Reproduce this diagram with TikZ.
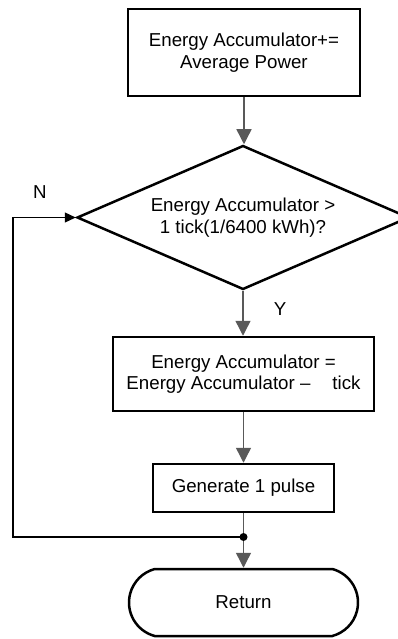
\documentclass[tikz,border=0pt]{standalone}
\usepackage{fontspec}
\setmainfont{Liberation Sans}
\usetikzlibrary{shapes.geometric,shapes.misc,arrows.meta}
\definecolor{conn}{HTML}{595959}
\tikzset{
  box/.style={draw=black, line width=2.5pt, rectangle, align=center, inner sep=0pt},
  decision/.style={draw=black, line width=2.5pt, diamond, aspect=2.3, align=center, inner sep=0pt},
  term/.style={draw=black, line width=2.5pt, rounded rectangle, rounded rectangle arc length=150, align=center, inner sep=0pt},
  garrow/.style={draw=conn, line width=1.4pt, -{Triangle[length=15pt,width=15pt]}},
  gline/.style={draw=conn, line width=1.4pt},
  barrow/.style={draw=black, line width=1.3pt, -{Triangle[length=11pt,width=10pt]}},
  lbl/.style={inner sep=0pt}
}
\begin{document}
\begin{tikzpicture}[x=1pt,y=-1pt,font=\fontsize{18.7}{21.5}\selectfont]
\useasboundingbox (0,0) rectangle (398,639);
\node[box, minimum width=232pt, minimum height=87pt] (b1) at (244,52.5)
  {Energy Accumulator+=\\Average Power};
\node[decision, minimum width=332pt, minimum height=144pt] (dia) at (243,217.5)
  {Energy Accumulator >\\1 tick(1/6400 kWh)?};
\node[box, minimum width=261pt, minimum height=74pt] (b2) at (243.5,374)
  {Energy Accumulator =\\Energy Accumulator –\hspace{22pt}tick};
\node[box, minimum width=181pt, minimum height=48pt] (b3) at (243.5,488)
  {Generate 1 pulse};
\node[term, minimum width=229pt, minimum height=67pt] (ret) at (243.5,602.5)
  {Return};
\node[lbl] (ylab) at (280,309) {Y};
\node[lbl] (nlab) at (40,192) {N};
\coordinate (j) at (243.5,537);
\coordinate (lc) at (13,537);
\draw[garrow] (b1.south) -- (b1.south |- dia.north);
\draw[garrow] (dia.south) -- (dia.south |- b2.north);
\draw[garrow] (b2.south) -- (b3.north);
\draw[gline] (b3.south) -- (j);
\draw[garrow] (j) -- (ret.north);
\draw[barrow] (j) -- (lc) |- (dia.west);
\fill[black] (j) circle (4pt);
\end{tikzpicture}
\end{document}
